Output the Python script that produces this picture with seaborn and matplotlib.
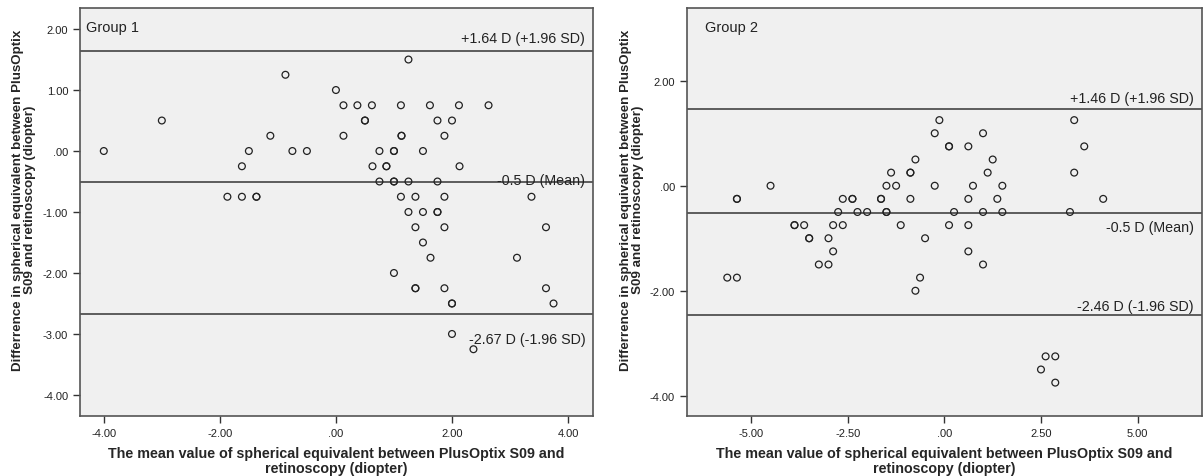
import pandas as pd
import matplotlib.pyplot as plt
import seaborn as sns

# Group 1: mean of the two methods (x) vs difference (y)
g1_mean = [-4.00, -3.00, -0.87, 0.00, -1.13, -1.50, -0.75, -0.50, -1.62,
           -1.87, -1.62, -1.37, -1.37, 1.25,
           0.13, 0.37, 0.62, 1.12, 1.62, 2.12, 2.63,
           0.50, 0.50, 1.75, 2.00,
           0.13, 1.13, 1.13, 1.87,
           0.75, 1.00, 1.00, 1.50,
           0.63, 0.87, 0.87, 2.13,
           0.75, 1.00, 1.00, 1.25, 1.75,
           1.12, 1.37, 1.87, 3.37,
           1.25, 1.50, 1.75, 1.75,
           1.37, 1.87, 3.62,
           1.50,
           1.63, 3.12,
           1.00,
           1.37, 1.37, 1.87, 3.62,
           2.00, 2.00, 3.75,
           2.00,
           2.37]
g1_diff = [0.00, 0.50, 1.25, 1.00, 0.25, 0.00, 0.00, 0.00, -0.25,
           -0.75, -0.75, -0.75, -0.75, 1.50,
           0.75, 0.75, 0.75, 0.75, 0.75, 0.75, 0.75,
           0.50, 0.50, 0.50, 0.50,
           0.25, 0.25, 0.25, 0.25,
           0.00, 0.00, 0.00, 0.00,
           -0.25, -0.25, -0.25, -0.25,
           -0.50, -0.50, -0.50, -0.50, -0.50,
           -0.75, -0.75, -0.75, -0.75,
           -1.00, -1.00, -1.00, -1.00,
           -1.25, -1.25, -1.25,
           -1.50,
           -1.75, -1.75,
           -2.00,
           -2.25, -2.25, -2.25, -2.25,
           -2.50, -2.50, -2.50,
           -3.00,
           -3.25]

# Group 2
g2_mean = [-5.37, -5.37, -4.50,
           -2.63, -2.38, -2.38, -1.64, -1.64, -0.88, 0.62, 1.37, 4.11,
           -2.75, -2.25, -2.00, -1.50, -1.50, 0.25, 1.00, 1.50, 3.25,
           -3.88, -3.88, -3.63, -2.88, -2.63, -1.13, 0.12, 0.62,
           -1.50, -1.25, -0.25, 0.74, 1.50,
           -1.38, -0.88, -0.88, 1.12, 3.36,
           -0.75, 1.25,
           0.12, 0.12, 0.62, 3.62,
           -0.25, 1.00,
           -0.13, 3.36,
           -3.50, -3.50, -3.00, -0.50,
           -2.88, 0.62,
           -3.25, -3.00, 1.00,
           -5.62, -5.37, -0.63,
           -0.75,
           2.62, 2.87,
           2.50,
           2.87]
g2_diff = [-0.25, -0.25, 0.00,
           -0.25, -0.25, -0.25, -0.25, -0.25, -0.25, -0.25, -0.25, -0.25,
           -0.50, -0.50, -0.50, -0.50, -0.50, -0.50, -0.50, -0.50, -0.50,
           -0.75, -0.75, -0.75, -0.75, -0.75, -0.75, -0.75, -0.75,
           0.00, 0.00, 0.00, 0.00, 0.00,
           0.25, 0.25, 0.25, 0.25, 0.25,
           0.50, 0.50,
           0.75, 0.75, 0.75, 0.75,
           1.00, 1.00,
           1.25, 1.25,
           -1.00, -1.00, -1.00, -1.00,
           -1.25, -1.25,
           -1.50, -1.50, -1.50,
           -1.75, -1.75, -1.75,
           -2.00,
           -3.25, -3.25,
           -3.50,
           -3.75]

# limits of agreement: upper, mean, lower
g1_lines = [1.64, -0.50, -2.67]
g1_line_labels = ["+1.64 D (+1.96 SD)", "-0.5 D (Mean)", "-2.67 D (-1.96 SD)"]
g2_lines = [1.46, -0.52, -2.46]
g2_line_labels = ["+1.46 D (+1.96 SD)", "-0.5 D (Mean)", "-2.46 D (-1.96 SD)"]

g1_xticks = [-4, -2, 0, 2, 4]
g1_xticklabels = ["-4.00", "-2.00", ".00", "2.00", "4.00"]
g1_yticks = [2, 1, 0, -1, -2, -3, -4]
g1_yticklabels = ["2.00", "1.00", ".00", "-1.00", "-2.00", "-3.00", "-4.00"]
g2_xticks = [-5, -2.5, 0, 2.5, 5]
g2_xticklabels = ["-5.00", "-2.50", ".00", "2.50", "5.00"]
g2_yticks = [2, 0, -2, -4]
g2_yticklabels = ["2.00", ".00", "-2.00", "-4.00"]

xlabel = "The mean value of spherical equivalent between PlusOptix S09 and\nretinoscopy (diopter)"
ylabel = "Differrence in spherical equivalent between PlusOptix\nS09 and retinoscopy (diopter)"

sns.set_style("white")
plt.rcParams['font.family'] = ['Liberation Sans', 'DejaVu Sans']

fig = plt.figure(figsize=(12.03, 4.77), dpi=100)
H = 477.0
W = 1203.0
ax1 = fig.add_axes([80 / W, 1 - 416.7 / H, (593 - 80) / W, (416.7 - 9.3) / H])
ax2 = fig.add_axes([686.7 / W, 1 - 416.7 / H, (1201.7 - 686.7) / W, (416.7 - 9.3) / H])

panels = [
    (ax1, g1_mean, g1_diff, g1_lines, g1_line_labels, "Group 1",
     (-4.41, 4.43), (-4.34, 2.34), g1_xticks, g1_xticklabels, g1_yticks, g1_yticklabels,
     [9.0, 1.4, -18.0], 0.012, 24),
    (ax2, g2_mean, g2_diff, g2_lines, g2_line_labels, "Group 2",
     (-6.67, 6.66), (-4.38, 3.38), g2_xticks, g2_xticklabels, g2_yticks, g2_yticklabels,
     [7.9, -10.0, 6.7], 0.036, 632),
]

for (ax, xs, ys, lines, labels, title, xlim, ylim, xt, xtl, yt, ytl,
     offsets, title_x, ylab_x) in panels:
    df = pd.DataFrame({"mean": xs, "diff": ys})
    ax.set_facecolor("#f0f0f0")
    sns.scatterplot(data=df, x="mean", y="diff", ax=ax, marker="o", s=24,
                    facecolors="none", edgecolor="#222222", linewidth=0.9, zorder=3)
    for val, lab, dy in zip(lines, labels, offsets):
        ax.axhline(val, color="#444444", linewidth=1.2, zorder=2)
        ax.annotate(lab, xy=(0.985, val), xycoords=ax.get_yaxis_transform(),
                    xytext=(0, dy), textcoords="offset points", ha="right",
                    va="center", fontsize=10.3, color="#222222")
    ax.text(title_x, 0.955, title, transform=ax.transAxes,
            ha="left", va="center", fontsize=10.5, color="#222222")
    ax.set_xlim(*xlim)
    ax.set_ylim(*ylim)
    ax.set_xticks(xt)
    ax.set_xticklabels(xtl)
    ax.set_yticks(yt)
    ax.set_yticklabels(ytl)
    ax.tick_params(axis="both", direction="out", length=5, width=1, color="#333333",
                   labelsize=8, labelcolor="#222222", bottom=True, left=True)
    for sp in ax.spines.values():
        sp.set_color("#555555")
        sp.set_linewidth(1.2)
    ax.set_xlabel(xlabel, fontsize=10.3, fontweight="bold", labelpad=6, linespacing=1.1)
    ax.set_ylabel("")
    fig.text(ylab_x / W, 1 - 200 / H, ylabel, rotation=90, ha="center", va="center",
             multialignment="center", fontsize=9.6, fontweight="bold", linespacing=1.1)

plt.savefig("out.png", dpi=100)
